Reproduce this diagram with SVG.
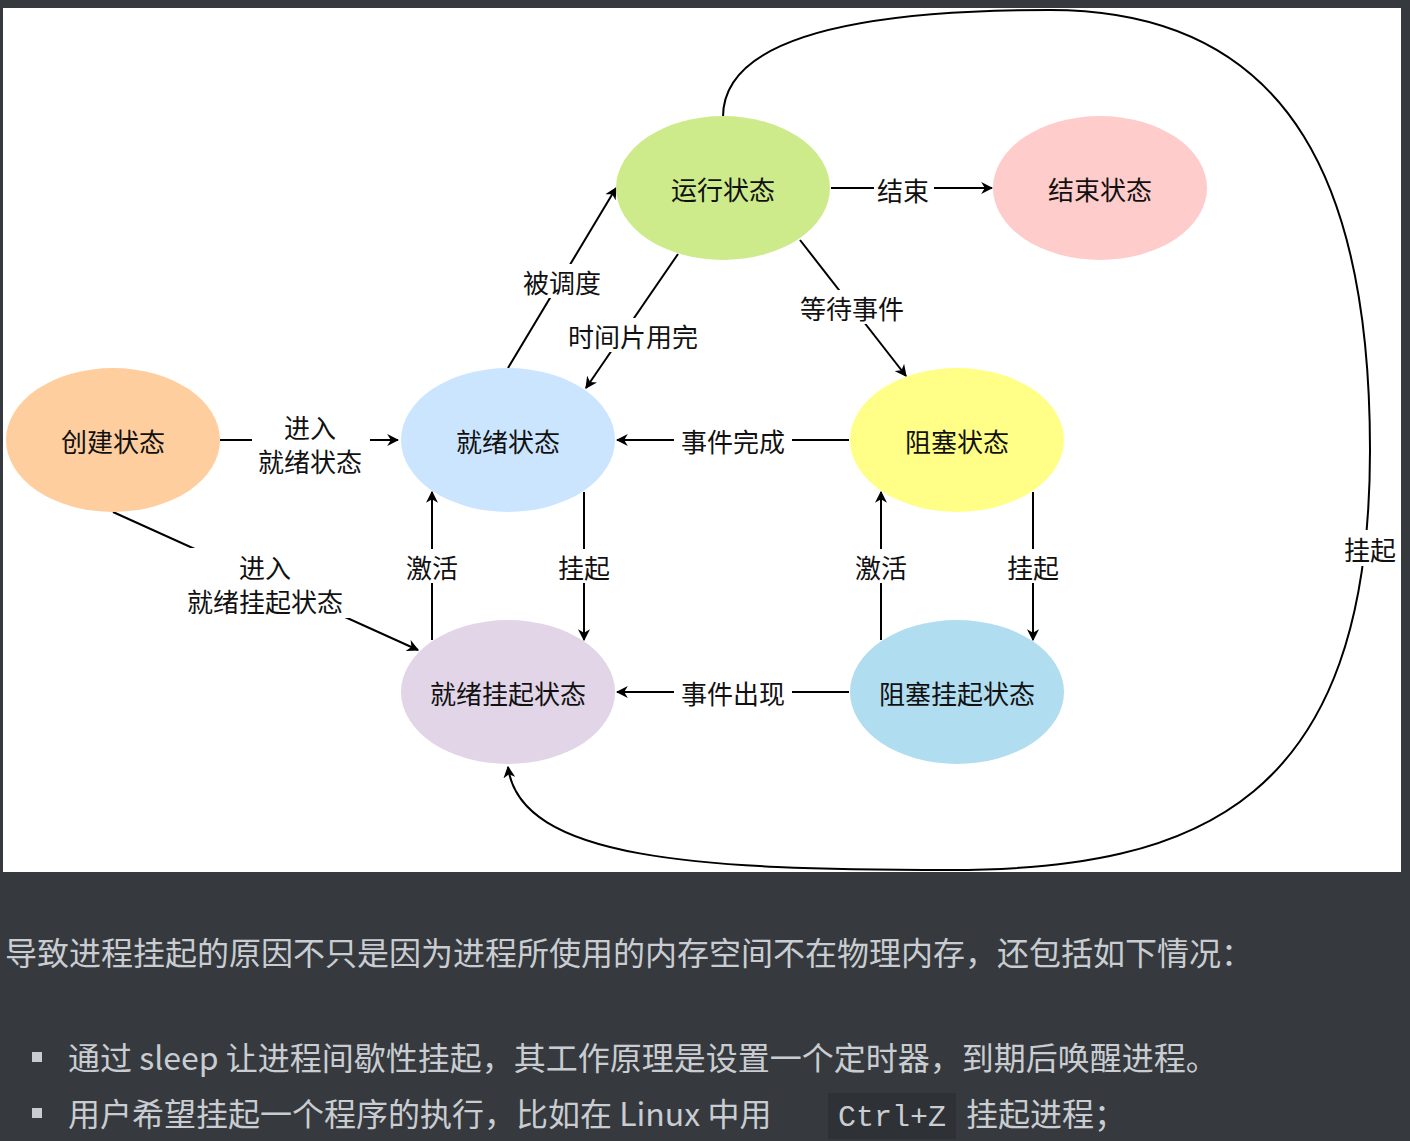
<svg xmlns="http://www.w3.org/2000/svg" width="1410" height="1141" viewBox="0 0 1410 1141">
<style>
.n{stroke:none}
.t{font-family:"Noto Sans CJK SC","Noto Sans",sans-serif;font-size:26px;fill:#111;text-anchor:middle;dominant-baseline:central}
.l{stroke:#000;stroke-width:2;fill:none}
.bg{fill:#fff}
.p{font-family:"Noto Sans CJK SC","Noto Sans",sans-serif;font-size:32px;fill:#c9cdd1}
</style>
<defs><marker id="a" viewBox="0 0 10 10" refX="9" refY="5" markerWidth="7" markerHeight="7" orient="auto" markerUnits="userSpaceOnUse"><path d="M0,0L10,5L0,10L3,5z" fill="#000"/></marker>
<marker id="b" viewBox="0 0 10 10" refX="9" refY="5" markerWidth="12" markerHeight="12" orient="auto" markerUnits="userSpaceOnUse"><path d="M0,0L10,5L0,10L3,5z" fill="#000"/></marker></defs>
<rect width="1410" height="1141" fill="#363a3e"/>
<rect x="3" y="8" width="1398" height="864" fill="#fff"/>
<g id="connectors">
<path class="l" d="M723,117C723,40 850,10 1050,10C1300,10 1370,200 1370,450C1370,800 1200,870 950,870C700,870 520,860 508,767" marker-end="url(#b)"/>
<rect class="bg" x="1340" y="530" width="60" height="36"/><text class="t" x="1370" y="548">挂起</text>
<path class="l" d="M220,440H398" marker-end="url(#b)"/>
<rect class="bg" x="252" y="410" width="118" height="66"/><text class="t" x="310" y="426">进入</text><text class="t" x="310" y="460">就绪状态</text>
<path class="l" d="M113,512L418,650" marker-end="url(#b)"/>
<rect class="bg" x="178" y="548" width="176" height="70"/><text class="t" x="265" y="566">进入</text><text class="t" x="265" y="600">就绪挂起状态</text>
<path class="l" d="M508,368L616,188" marker-end="url(#b)"/>
<rect class="bg" x="516" y="264" width="92" height="34"/><text class="t" x="562" y="281">被调度</text>
<path class="l" d="M678,254L586,388" marker-end="url(#b)"/>
<rect class="bg" x="562" y="318" width="144" height="34"/><text class="t" x="633" y="335">时间片用完</text>
<path class="l" d="M800,240L906,376" marker-end="url(#b)"/>
<rect class="bg" x="794" y="290" width="118" height="34"/><text class="t" x="852" y="307">等待事件</text>
<path class="l" d="M831,188H992" marker-end="url(#b)"/>
<rect class="bg" x="874" y="172" width="60" height="34"/><text class="t" x="903" y="189">结束</text>
<path class="l" d="M849,440H617" marker-end="url(#b)"/>
<rect class="bg" x="674" y="423" width="118" height="34"/><text class="t" x="733" y="440">事件完成</text>
<path class="l" d="M849,692H617" marker-end="url(#b)"/>
<rect class="bg" x="674" y="675" width="118" height="34"/><text class="t" x="733" y="692">事件出现</text>
<path class="l" d="M584,492V640" marker-end="url(#b)"/>
<rect class="bg" x="554" y="549" width="60" height="34"/><text class="t" x="584" y="566">挂起</text>
<path class="l" d="M432,640V492" marker-end="url(#b)"/>
<rect class="bg" x="402" y="549" width="60" height="34"/><text class="t" x="432" y="566">激活</text>
<path class="l" d="M881,640V492" marker-end="url(#b)"/>
<rect class="bg" x="851" y="549" width="60" height="34"/><text class="t" x="881" y="566">激活</text>
<path class="l" d="M1033,492V640" marker-end="url(#b)"/>
<rect class="bg" x="1003" y="549" width="60" height="34"/><text class="t" x="1033" y="566">挂起</text>
</g>
<g id="create"><ellipse cx="113" cy="440" rx="107" ry="72" fill="#ffce9f"/><text class="t" x="113" y="440">创建状态</text></g>
<g id="ready"><ellipse cx="508" cy="440" rx="107" ry="72" fill="#cce5ff"/><text class="t" x="508" y="440">就绪状态</text></g>
<g id="run"><ellipse cx="723" cy="188" rx="107" ry="72" fill="#cdeb8b"/><text class="t" x="723" y="188">运行状态</text></g>
<g id="end"><ellipse cx="1100" cy="188" rx="107" ry="72" fill="#ffcccc"/><text class="t" x="1100" y="188">结束状态</text></g>
<g id="block"><ellipse cx="957" cy="440" rx="107" ry="72" fill="#ffff88"/><text class="t" x="957" y="440">阻塞状态</text></g>
<g id="readysusp"><ellipse cx="508" cy="692" rx="107" ry="72" fill="#e1d5e7"/><text class="t" x="508" y="692">就绪挂起状态</text></g>
<g id="blocksusp"><ellipse cx="957" cy="692" rx="107" ry="72" fill="#b1ddf0"/><text class="t" x="957" y="692">阻塞挂起状态</text></g>
<text class="p" x="5" y="965">导致进程挂起的原因不只是因为进程所使用的内存空间不在物理内存，还包括如下情况：</text>
<rect x="32" y="1052" width="10" height="10" fill="#c9cdd1"/>
<text class="p" x="68" y="1070">通过 sleep 让进程间歇性挂起，其工作原理是设置一个定时器，到期后唤醒进程。</text>
<rect x="32" y="1108" width="10" height="10" fill="#c9cdd1"/>
<rect x="828" y="1093" width="128" height="46" fill="#2e3135"/>
<text class="p" x="68" y="1126">用户希望挂起一个程序的执行，比如在 Linux 中用</text>
<text class="p" x="838" y="1126" style="font-family:'Liberation Mono',monospace;font-size:30px">Ctrl+Z</text>
<text class="p" x="966" y="1126">挂起进程；</text>
</svg>
